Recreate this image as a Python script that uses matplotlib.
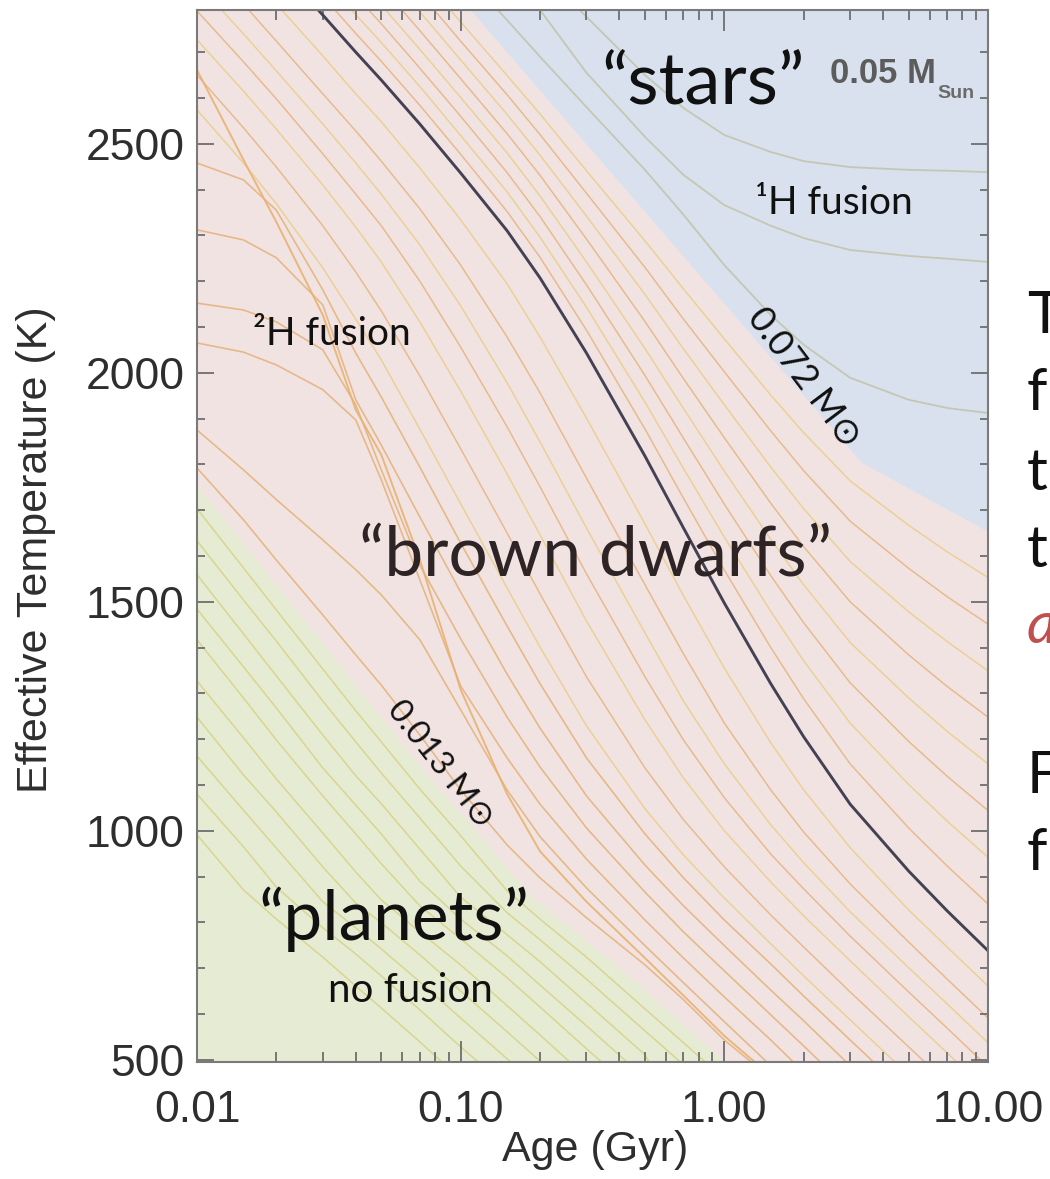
import numpy as np
import matplotlib
matplotlib.use("Agg")
import matplotlib.pyplot as plt
from matplotlib.ticker import MultipleLocator, LogLocator, NullFormatter

nan = float("nan")

# ---------------------------------------------------------------- data
# Age grids (Gyr) on which the cooling tracks are tabulated
AGES_TRACK = [0.01, 0.015, 0.02, 0.03, 0.04, 0.05, 0.07, 0.1, 0.15, 0.2,
              0.3, 0.5, 0.7, 1, 1.5, 2, 3, 5, 7, 10]
AGES_PLANET = [0.01, 0.015, 0.02, 0.03, 0.04, 0.05, 0.07, 0.1, 0.15, 0.2,
               0.3, 0.5, 0.7, 1, 2, 5, 10]

# Highlighted track (effective temperature, K) on AGES_TRACK
TEFF_HIGHLIGHT = [3083, 2973, 2893, 2781, 2700, 2639, 2543, 2436, 2310, 2207,
                  2043, 1818, 1661, 1497, 1321, 1205, 1058, 912, 825, 738]

# Hydrogen-burning stars
TEFF_STARS = [
    [3644, 3535, 3469, 3360, 3283, 3229, 3142, 3054, 2956, 2880, 2777, 2650, 2578, 2519, 2482, 2462, 2449, 2443, 2441, 2438],
    [3731, 3622, 3513, 3382, 3305, 3229, 3120, 3011, 2890, 2792, 2655, 2515, 2432, 2366, 2321, 2294, 2268, 2255, 2249, 2242],
    [3513, 3393, 3316, 3207, 3131, 3076, 2989, 2880, 2770, 2690, 2580, 2443, 2345, 2235, 2126, 2061, 1989, 1941, 1923, 1912],
]

# Massive brown dwarfs (between the highlighted track and the stars)
TEFF_BD_MASSIVE = [
    [3126, 3015, 2935, 2822, 2741, 2680, 2584, 2477, 2352, 2252, 2093, 1877, 1726, 1569, 1400, 1288, 1146, 1006, 923, 840],
    [3169, 3057, 2977, 2863, 2782, 2721, 2625, 2518, 2395, 2296, 2143, 1936, 1791, 1641, 1479, 1371, 1235, 1101, 1021, 942],
    [3212, 3100, 3019, 2905, 2823, 2762, 2665, 2560, 2437, 2341, 2192, 1994, 1857, 1713, 1557, 1454, 1323, 1195, 1119, 1044],
    [3255, 3142, 3061, 2946, 2864, 2803, 2706, 2601, 2480, 2386, 2242, 2053, 1922, 1785, 1636, 1537, 1411, 1290, 1217, 1146],
    [3298, 3184, 3103, 2987, 2905, 2844, 2747, 2642, 2522, 2431, 2292, 2112, 1987, 1858, 1715, 1620, 1500, 1384, 1315, 1248],
    [3340, 3226, 3144, 3028, 2946, 2885, 2788, 2683, 2564, 2475, 2342, 2171, 2052, 1930, 1794, 1703, 1588, 1478, 1413, 1349],
    [3383, 3268, 3186, 3069, 2987, 2926, 2829, 2724, 2607, 2520, 2392, 2230, 2117, 2002, 1873, 1786, 1676, 1573, 1511, 1451],
    [3426, 3311, 3228, 3111, 3028, 2967, 2869, 2766, 2649, 2565, 2441, 2288, 2183, 2074, 1951, 1869, 1764, 1667, 1609, 1553],
]

# Lower-mass brown dwarfs, including the deuterium burners
TEFF_BD_LIGHT = [
    [2995, 2884, 2805, 2692, 2609, 2548, 2447, 2334, 2194, 2078, 1901, 1670, 1513, 1355, 1192, 1089, 963, 827, 746, 661],
    [2914, 2805, 2724, 2609, 2528, 2462, 2358, 2235, 2078, 1956, 1770, 1537, 1386, 1235, 1089, 997, 884, 757, 676, 591],
    [2851, 2740, 2659, 2543, 2458, 2390, 2279, 2146, 1978, 1849, 1661, 1432, 1283, 1146, 1013, 930, 823, 701, 622, 537],
    [2790, 2679, 2598, 2478, 2390, 2321, 2200, 2056, 1882, 1751, 1561, 1336, 1198, 1072, 949, 873, 770, 648, 569, 484],
    [2727, 2615, 2532, 2410, 2318, 2242, 2111, 1960, 1779, 1646, 1458, 1242, 1115, 1000, 888, 814, 716, 594, 515, 430],
    [2650, 2535, 2449, 2321, 2220, 2135, 1993, 1834, 1650, 1517, 1336, 1137, 1024, 921, 816, 746, 648, 528, 449, nan],
    [2574, 2458, 2369, 2229, 2117, 2028, 1877, 1714, 1530, 1401, 1229, 1048, 947, 853, 753, 683, 587, 467, nan, nan],
]
TEFF_DEUTERIUM = [
    [2458, 2421, 2355, 2181, 2043, 1947, 1794, 1628, 1447, 1321, 1159, 993, 897, 805, 709, 639, 543, 423, nan, nan],
    [2312, 2290, 2251, 2148, 1941, 1842, 1685, 1521, 1342, 1224, 1076, 925, 836, 749, 652, 585, 487, nan, nan, nan],
    [2152, 2137, 2111, 2050, 1930, 1788, 1580, 1419, 1248, 1139, 1006, 866, 779, 694, 598, 530, 432, nan, nan, nan],
    [2065, 2045, 2017, 1963, 1897, 1766, 1548, 1316, 1159, 1058, 938, 805, 722, 637, 543, 473, nan, nan, nan, nan],
    [1875, 1788, 1723, 1635, 1570, 1515, 1417, 1264, 1089, 987, 875, 749, 668, 583, 487, nan, nan, nan, nan, nan],
    [1792, 1679, 1591, 1471, 1384, 1318, 1209, 1089, 969, 897, 810, 707, 631, 543, 460, nan, nan, nan, nan, nan],
]
# track that drops steeply once deuterium is exhausted
TEFF_DEUTERIUM_EDGE = [2661, 2465, 2329, 2126, 1919, 1821, 1592, 1308, 1080, 955,
                       845, 722, 640, 552, 465, nan, nan, nan, nan, nan]

# Giant planets (AGES_PLANET)
TEFF_PLANETS = [
    [1703, 1574, 1482, 1353, 1262, 1194, 1091, 989, 869, 807, 724, 611, 537, 458, nan, nan, nan],
    [1633, 1504, 1414, 1283, 1194, 1126, 1028, 923, 821, 762, 676, 563, 489, nan, nan, nan, nan],
    [1559, 1430, 1338, 1209, 1120, 1059, 960, 855, 773, 714, 624, 511, 358, nan, nan, nan, nan],
    [1484, 1358, 1268, 1137, 1056, 993, 890, 807, 727, 663, 574, 460, nan, nan, nan, nan, nan],
    [1417, 1290, 1198, 1076, 993, 928, 836, 764, 679, 615, 524, 412, nan, nan, nan, nan, nan],
    [1327, 1203, 1113, 995, 910, 849, 779, 707, 618, 554, 462, nan, nan, nan, nan, nan, nan],
    [1248, 1122, 1041, 921, 842, 799, 729, 650, 561, 497, nan, nan, nan, nan, nan, nan, nan],
    [1163, 1045, 962, 845, 788, 742, 670, 591, 502, 438, nan, nan, nan, nan, nan, nan, nan],
    [1080, 965, 877, 788, 731, 683, 609, 528, 441, nan, nan, nan, nan, nan, nan, nan, nan],
    [991, 871, 807, 724, 661, 613, 539, 458, nan, nan, nan, nan, nan, nan, nan, nan, nan],
]

# Region boundaries
STAR_EDGE_AGE = [0.106, 3.33, 10]
STAR_EDGE_TEFF = [2800, 1803, 1653]
PLANET_EDGE_AGE = [0.01, 0.0246, 0.0719, 0.118, 0.183, 0.368, 0.99]
PLANET_EDGE_TEFF = [1755, 1472, 1133, 991, 860, 718, 500]

X_TICKS = [0.01, 0.1, 1, 10]
X_TICK_LABELS = ["0.01", "0.10", "1.00", "10.00"]
Y_TICKS = [500, 1000, 1500, 2000, 2500]

# ---------------------------------------------------------------- figure
W, H = 1050, 1179
fig = plt.figure(figsize=(W / 100, H / 100), dpi=100)
fig.patch.set_facecolor("white")

ax = fig.add_axes([197 / W, 1 - 1062 / H, (988 - 197) / W, (1062 - 10) / H])
ax.set_xscale("log")
ax.set_xlim(0.01, 10)
ax.set_ylim(495, 2792)
ax.set_facecolor("#f2e3e3")

# shaded regimes
ax.fill(STAR_EDGE_AGE + [10, 0.106], STAR_EDGE_TEFF + [2800, 2800],
        color="#d8e1ed", lw=0, zorder=0.5)
ax.fill(PLANET_EDGE_AGE + [1.0, 0.01], PLANET_EDGE_TEFF + [480, 480],
        color="#e6ecd3", lw=0, zorder=0.5)

pink_cols = ["#e6b684", "#e9cf8d"]
for i, t in enumerate(TEFF_BD_MASSIVE):
    ax.plot(AGES_TRACK, t, color=pink_cols[i % 2], lw=1.1, alpha=0.9, zorder=1)
for i, t in enumerate(TEFF_BD_LIGHT):
    ax.plot(AGES_TRACK, t, color=pink_cols[(i + 1) % 2], lw=1.1, alpha=0.9, zorder=1)
for t in TEFF_DEUTERIUM:
    ax.plot(AGES_TRACK, t, color="#e4b47e", lw=1.2, alpha=0.9, zorder=1)
ax.plot(AGES_TRACK, TEFF_DEUTERIUM_EDGE, color="#e8b270", lw=1.4, alpha=0.9,
        zorder=1.2)
for t in TEFF_STARS:
    ax.plot(AGES_TRACK, t, color="#c4c8b3", lw=1.3, zorder=1)
for t in TEFF_PLANETS:
    ax.plot(AGES_PLANET, t, color="#d9d58f", lw=1.1, zorder=1)
ax.plot(AGES_TRACK, TEFF_HIGHLIGHT, color="#434153", lw=2.1, zorder=2)

# axes styling
for s in ax.spines.values():
    s.set_color("#7a7a7a")
    s.set_linewidth(1.5)
ax.set_xticks(X_TICKS)
ax.set_xticklabels(X_TICK_LABELS)
ax.xaxis.set_minor_locator(LogLocator(base=10, subs=np.arange(2, 10)))
ax.xaxis.set_minor_formatter(NullFormatter())
ax.set_yticks(Y_TICKS)
ax.yaxis.set_minor_locator(MultipleLocator(100))
ax.tick_params(which="both", direction="in", top=True, right=True,
               color="#6e6e6e", width=1.3)
ax.tick_params(axis="x", which="major", length=15, pad=20)
ax.tick_params(axis="x", which="minor", length=7)
ax.tick_params(axis="y", which="major", length=12, pad=9)
ax.tick_params(axis="y", which="minor", length=6)
for lab in ax.get_xticklabels() + ax.get_yticklabels():
    lab.set_fontfamily("Liberation Sans")
    lab.set_fontsize(32)
    lab.set_color("#2e2e2e")

fig.text(36 / W, 1 - 550 / H, "Effective Temperature (K)", rotation=90,
         ha="center", va="center", fontsize=31, family="Liberation Sans",
         color="#2e2e2e")
fig.text(595 / W, 1 - 1150 / H, "Age (Gyr)", ha="center", va="center",
         fontsize=31, family="Liberation Sans", color="#2e2e2e")

# annotations
ann = ["Lato", "DejaVu Sans"]
ax.text(0.829, 2585, "\u201cstars\u201d", ha="center", va="baseline",
        fontsize=52, family=ann, color="#111111", zorder=5)
t05 = ax.text(2.514, 2633, "0.05 M", ha="left", va="baseline", fontsize=25,
              family="Liberation Sans", weight="bold", color="#5c5c5c", zorder=5)
ax.annotate("Sun", xy=(1, 0), xycoords=t05, xytext=(1, -6),
            textcoords="offset points", ha="left", va="baseline",
            fontsize=14, family="Liberation Sans", weight="bold",
            color="#6a6a6a", zorder=5)
ax.text(1.306, 2347, "\u00b9H fusion", ha="left", va="baseline", fontsize=28,
        family=ann, color="#111111", zorder=5)
ax.text(0.0163, 2061, "\u00b2H fusion", ha="left", va="baseline", fontsize=28,
        family=ann, color="#111111", zorder=5)
ax.text(0.326, 1554, "\u201cbrown dwarfs\u201d", ha="center", va="baseline",
        fontsize=50, family=ann, color="#2e2425", zorder=5)
ax.text(0.0558, 762, "\u201cplanets\u201d", ha="center", va="baseline",
        fontsize=50, family=ann, color="#111111", zorder=5)
ax.text(0.0643, 626, "no fusion", ha="center", va="baseline", fontsize=29,
        family=ann, color="#111111", zorder=5)
ax.text(2.02, 1990, "0.072 M\u2299", ha="center", va="center", fontsize=26,
        rotation=-53, rotation_mode="anchor", family=ann, color="#111111",
        zorder=5)
ax.text(0.0835, 1144, "0.013 M\u2299", ha="center", va="center", fontsize=24,
        rotation=-52, rotation_mode="anchor", family=ann, color="#111111",
        zorder=5)

# slide text running off the right edge
side = [("T", 333, "#111111", "normal"), ("f", 410, "#111111", "normal"),
        ("t", 490, "#111111", "normal"), ("t", 567, "#111111", "normal"),
        ("a", 643, "#c0504d", "italic"), ("F", 793, "#111111", "normal"),
        ("f", 870, "#111111", "normal")]
for ch, yb, col, sty in side:
    fig.text(1027 / W, 1 - yb / H, ch, ha="left", va="baseline", fontsize=42,
             family=ann, color=col, style=sty)

fig.savefig("out.png", dpi=100, facecolor="white")
